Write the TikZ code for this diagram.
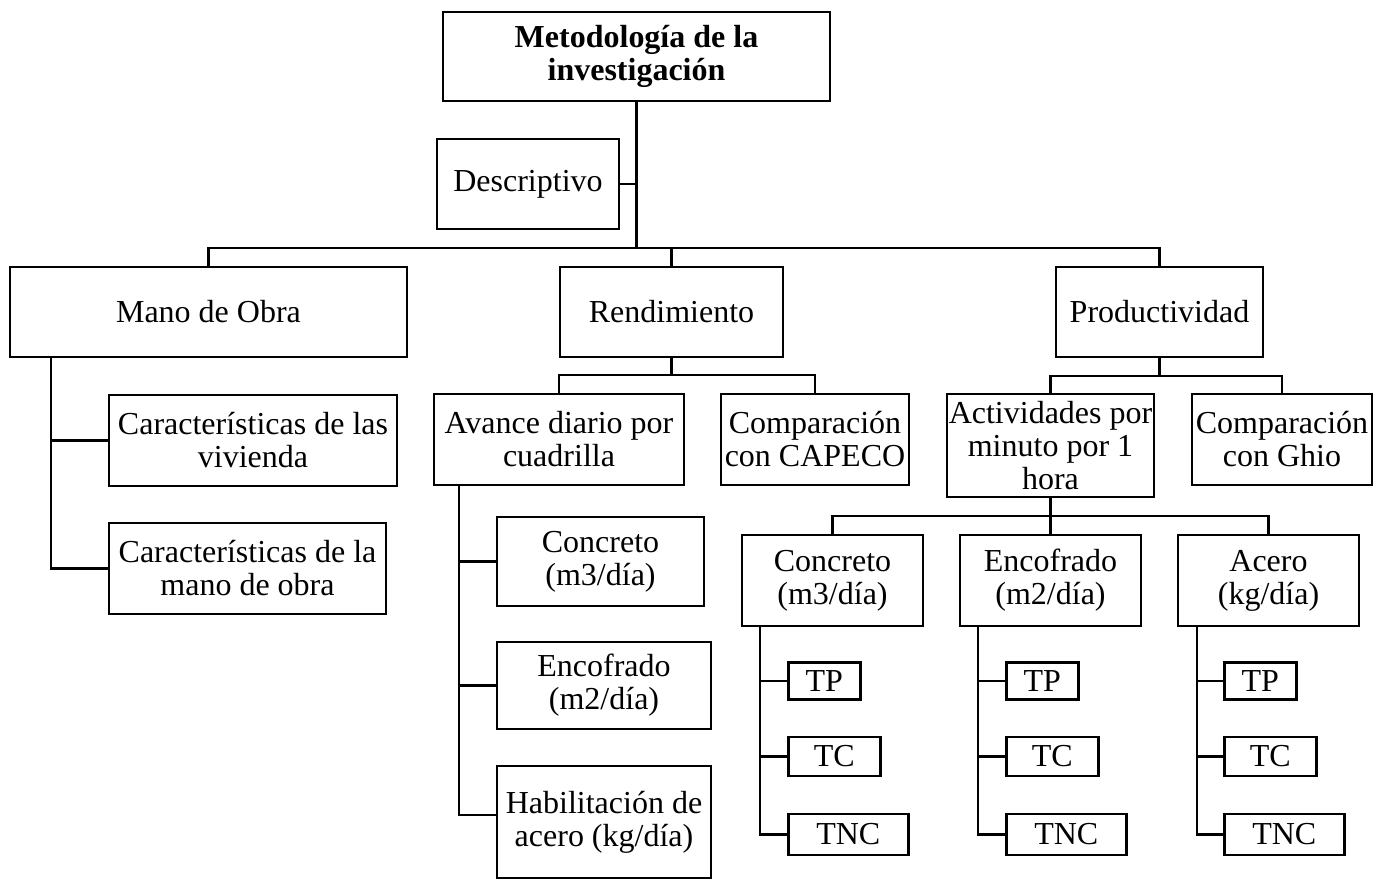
\documentclass[tikz,border=0pt]{standalone}
\usepackage{fontspec}
\setmainfont{Liberation Serif}
\usetikzlibrary{calc}
\begin{document}
\begin{tikzpicture}[x=1pt,y=-1pt,
  box/.style={draw, line width=2.6pt, rectangle, inner sep=0pt, align=center,
    font=\fontsize{32}{33}\selectfont},
  conn/.style={line width=2.6pt}]
\useasboundingbox (0,0) rectangle (1379,880);
% nodes
\node[box, minimum width=387pt, minimum height=89pt, font=\fontsize{32}{33}\selectfont\bfseries] (root) at (636.5,56.5) {Metodología de la\\investigación};
\node[box, minimum width=182pt, minimum height=90pt] (desc) at (528,184) {Descriptivo};
\node[box, minimum width=397pt, minimum height=90pt] (mano) at (208.5,312) {Mano de Obra};
\node[box, minimum width=223pt, minimum height=90pt] (rend) at (671.5,312) {Rendimiento};
\node[box, minimum width=207pt, minimum height=90pt] (prod) at (1159.5,312) {Productividad};
\node[box, minimum width=288pt, minimum height=91pt] (viv) at (253,440.5) {Características de las\\vivienda};
\node[box, minimum width=277pt, minimum height=91pt] (mobra) at (247.5,568.5) {Características de la\\mano de obra};
\node[box, minimum width=250pt, minimum height=91pt] (avance) at (559,439.5) {Avance diario por\\cuadrilla};
\node[box, minimum width=188pt, minimum height=91pt] (capeco) at (815,439.5) {Comparación\\con CAPECO};
\node[box, minimum width=207pt, minimum height=103pt] (activ) at (1050.5,445.5) {Actividades por\\minuto por 1\\hora};
\node[box, minimum width=180pt, minimum height=91pt] (ghio) at (1282,439.5) {Comparación\\con Ghio};
\node[box, minimum width=207pt, minimum height=89pt] (conc1) at (600.5,561.5) {Concreto\\(m3/día)};
\node[box, minimum width=214pt, minimum height=87pt] (enc1) at (604,685.5) {Encofrado\\(m2/día)};
\node[box, minimum width=214pt, minimum height=112pt] (hab) at (604,822) {Habilitación de\\acero (kg/día)};
\node[box, minimum width=181pt, minimum height=91pt] (qa) at (832.5,580.5) {Concreto\\(m3/día)};
\node[box, minimum width=181pt, minimum height=91pt] (qb) at (1050.5,580.5) {Encofrado\\(m2/día)};
\node[box, minimum width=181pt, minimum height=91pt] (qc) at (1268.5,580.5) {Acero\\(kg/día)};
% top level connectors
\coordinate (bus1) at (0,248);
\draw[conn] (root.south) -- (root.south |- bus1);
\draw[conn] (desc.east) -- (root.south |- desc.east);
\draw[conn] (mano.north) -- (mano.north |- bus1) -- (prod.north |- bus1) -- (prod.north);
\draw[conn] (rend.north) -- (rend.north |- bus1);
% mano de obra
\coordinate (msx) at (51,0);
\draw[conn] (msx |- mano.south) |- (mobra.west);
\draw[conn] (viv.west) -- (msx |- viv.west);
% rendimiento
\coordinate (bus2) at (0,375);
\draw[conn] (rend.south) -- (rend.south |- bus2);
\draw[conn] (avance.north) -- (avance.north |- bus2) -- (capeco.north |- bus2) -- (capeco.north);
\coordinate (asx) at (459,0);
\draw[conn] (asx |- avance.south) |- ($(hab.west)+(0,-7)$);
\draw[conn] (conc1.west) -- (asx |- conc1.west);
\draw[conn] (enc1.west) -- (asx |- enc1.west);
% productividad
\coordinate (bus3) at (0,376);
\draw[conn] (prod.south) -- (prod.south |- bus3);
\draw[conn] (activ.north) -- (activ.north |- bus3) -- (ghio.north |- bus3) -- (ghio.north);
\coordinate (bus4) at (0,516);
\draw[conn] (activ.south) -- (qb.north);
\draw[conn] (qa.north) -- (qa.north |- bus4) -- (qc.north |- bus4) -- (qc.north);
% leaves
\foreach \k/\sx/\bx in {a/760/787, b/978/1005, c/1197/1223} {
  \node[box, minimum width=72pt, minimum height=37pt, anchor=west] (tp\k) at (\bx,681) {TP};
  \node[box, minimum width=92pt, minimum height=39pt, anchor=west] (tc\k) at (\bx,756.5) {TC};
  \node[box, minimum width=120pt, minimum height=41pt, anchor=west] (tnc\k) at (\bx,834.5) {TNC};
  \coordinate (s\k) at (\sx,0);
  \draw[conn] (s\k |- q\k.south) |- (tnc\k.west);
  \draw[conn] (tp\k.west) -- (s\k |- tp\k.west);
  \draw[conn] (tc\k.west) -- (s\k |- tc\k.west);
}
\end{tikzpicture}
\end{document}
